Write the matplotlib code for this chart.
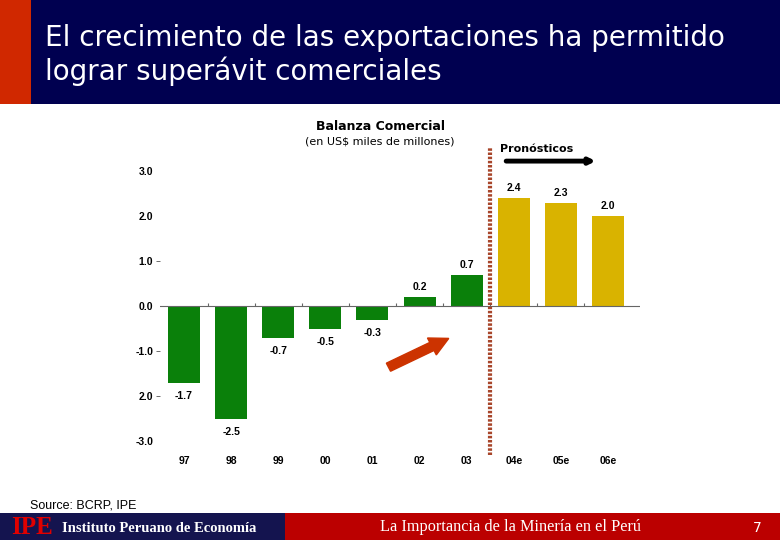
import matplotlib
matplotlib.use("Agg")
import matplotlib.pyplot as plt
from matplotlib.patches import Rectangle, FancyArrow
import numpy as np

# data
years = ["97", "98", "99", "00", "01", "02", "03", "04e", "05e", "06e"]
balance = [-1.7, -2.5, -0.7, -0.5, -0.3, 0.2, 0.7, 2.4, 2.3, 2.0]
value_labels = ["-1.7", "-2.5", "-0.7", "-0.5", "-0.3", "0.2", "0.7", "2.4", "2.3", "2.0"]
is_forecast = [False] * 7 + [True] * 3
y_ticks = [3, 2, 1, 0, -1, -2, -3]
y_tick_labels = ["3.0", "2.0", "1.0", "0.0", "-1.0", "2.0", "-3.0"]

green = "#0a800a"
gold = "#d9b300"
navy = "#000050"

fig = plt.figure(figsize=(7.8, 5.4), dpi=100)

# header band
fig.patches.append(Rectangle((0, 1 - 104 / 540), 1, 104 / 540, transform=fig.transFigure,
                             facecolor=navy, edgecolor="none", zorder=0))
fig.patches.append(Rectangle((0, 1 - 104 / 540), 31 / 780, 104 / 540, transform=fig.transFigure,
                             facecolor="#d02800", edgecolor="none", zorder=1))
fig.text(45 / 780, 1 - 38 / 540, "El crecimiento de las exportaciones ha permitido",
         color="white", fontsize=20, va="center", ha="left")
fig.text(45 / 780, 1 - 71 / 540, "lograr superávit comerciales",
         color="white", fontsize=20, va="center", ha="left")

# footer band
fig.patches.append(Rectangle((0, 0), 285 / 780, 27 / 540, transform=fig.transFigure,
                             facecolor="#14144f", edgecolor="none"))
fig.patches.append(Rectangle((285 / 780, 0), 1 - 285 / 780, 27 / 540, transform=fig.transFigure,
                             facecolor="#bb0000", edgecolor="none"))
fig.text(11 / 780, 13 / 540, "IPE", color="#e00000", fontsize=18, fontweight="bold",
         family="Liberation Serif", va="center", ha="left")
fig.text(62 / 780, 12 / 540, "Instituto Peruano de Economía", color="white", fontsize=10.5,
         fontweight="bold", family="Liberation Serif", va="center", ha="left")
fig.text(511 / 780, 13 / 540, "La Importancia de la Minería en el Perú", color="white",
         fontsize=11.7, family="Liberation Serif", va="center", ha="center")
fig.text(757 / 780, 12 / 540, "7", color="white", fontsize=10, va="center", ha="center")
fig.text(30 / 780, 1 - 506 / 540, "Source: BCRP, IPE", color="black", fontsize=9,
         family="Liberation Sans", va="center", ha="left")

# chart
ax = fig.add_axes([160 / 780, 99 / 540, 480 / 780, 270 / 540])
x = np.arange(len(years))
colors = [gold if f else green for f in is_forecast]
ax.bar(x, balance, width=0.68, color=colors, zorder=2)
ax.set_xlim(-0.51, 9.68)
ax.set_ylim(-3, 3)

for s in ax.spines.values():
    s.set_visible(False)
ax.axhline(0, color="#666666", lw=0.8, zorder=3)
ax.vlines(x[:-1] + 0.5, 0, 0.07, color="#666666", lw=0.8, zorder=3)

ax.set_yticks(y_ticks)
ax.set_yticklabels(y_tick_labels, fontsize=7.5, fontweight="bold", family="Liberation Sans")
for t, v in zip(ax.yaxis.get_major_ticks(), y_ticks):
    t.tick1line.set_visible(v in (1, -1, -2))
ax.tick_params(axis="y", length=3, width=0.6, color="#555555", pad=2)
ax.set_xticks(x)
ax.set_xticklabels(years, fontsize=7.5, fontweight="bold", family="Liberation Sans")
ax.tick_params(axis="x", length=0, pad=11)
ax.xaxis.set_ticks_position("bottom")

for xi, v, lab in zip(x, balance, value_labels):
    off = 0.22 if v > 0 else -0.3
    ax.text(xi, v + off, lab, ha="center", va="center", fontsize=7.5,
            fontweight="bold", family="Liberation Sans")

# forecast divider
ax.plot([6.5, 6.5], [-3.31, 3.51], color="#a8452a", lw=3, ls=(0, (0.6, 0.4)),
        clip_on=False, zorder=4)
ax.text(6.7, 3.48, "Pronósticos", fontsize=8, fontweight="bold", ha="left", va="center")
ax.annotate("", xy=(8.8, 3.22), xytext=(6.78, 3.22),
            arrowprops=dict(arrowstyle="-|>", lw=3.5, color="black", mutation_scale=8),
            annotation_clip=False)

# trend arrow
ax.add_patch(FancyArrow(4.34, -1.36, 1.28, 0.64, width=0.2, head_width=0.42,
                        head_length=0.4, length_includes_head=True,
                        color="#cc3300", zorder=5))

fig.text(380 / 780, 1 - 126 / 540, "Balanza Comercial", fontsize=9, fontweight="bold",
         ha="center", va="center")
fig.text(380 / 780, 1 - 141 / 540, "(en US$ miles de millones)", fontsize=8,
         ha="center", va="center")

fig.savefig("out.png", dpi=100)
